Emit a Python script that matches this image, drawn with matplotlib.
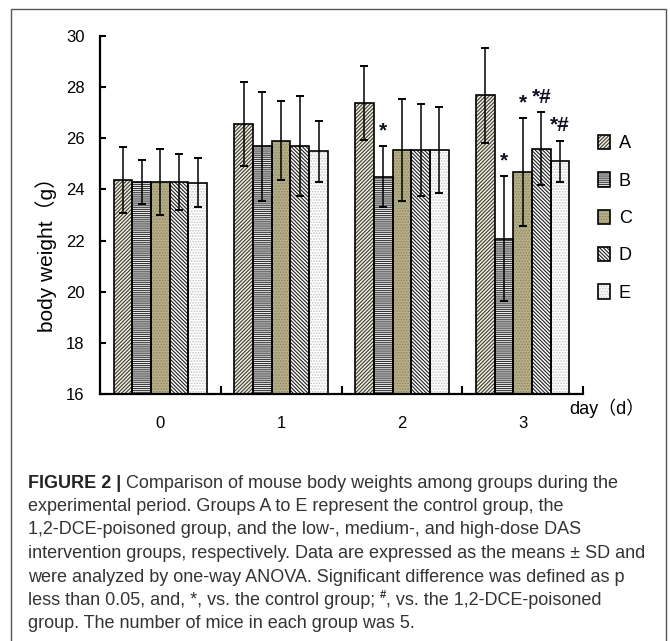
import matplotlib.pyplot as plt
import numpy as np
from matplotlib.patches import Rectangle

# mouse body weight (g), mean and SD per group, day 0..3
days = ["0", "1", "2", "3"]
groups = ["A", "B", "C", "D", "E"]

mean_A = [24.37, 26.57, 27.37, 27.68]
mean_B = [24.29, 25.68, 24.50, 22.07]
mean_C = [24.29, 25.90, 25.54, 24.68]
mean_D = [24.29, 25.70, 25.54, 25.59]
mean_E = [24.26, 25.49, 25.54, 25.11]

sd_A = [1.30, 1.65, 1.44, 1.85]
sd_B = [0.85, 2.14, 1.20, 2.45]
sd_C = [1.30, 1.55, 2.00, 2.10]
sd_D = [1.08, 1.95, 1.80, 1.42]
sd_E = [0.96, 1.20, 1.68, 0.80]

# significance marks
sig_day = [2, 3, 3, 3, 3]
sig_group = ["B", "B", "C", "D", "E"]
sig_text = ["*", "*", "*", "*#", "*#"]

caption_lines = [
    "Comparison of mouse body weights among groups during the",
    "experimental period. Groups A to E represent the control group, the",
    "1,2-DCE-poisoned group, and the low-, medium-, and high-dose DAS",
    "intervention groups, respectively. Data are expressed as the means \u00b1 SD and",
    "were analyzed by one-way ANOVA. Significant difference was defined as p",
    "less than 0.05, and, *, vs. the control group;",
    "group. The number of mice in each group was 5.",
]

means = dict(zip(groups, [mean_A, mean_B, mean_C, mean_D, mean_E]))
sds = dict(zip(groups, [sd_A, sd_B, sd_C, sd_D, sd_E]))

fill = {"A": "#f2f0e2", "B": "#f4f4f4", "C": "#b8b088", "D": "#ffffff", "E": "#ffffff"}
hcol = {"A": "#3b3a2c", "B": "#333333", "C": "#8d8663", "D": "#1e1e1e", "E": "#c4c4c4"}
hatch = {"A": "/" * 9, "B": "-" * 8, "C": "." * 6, "D": "\\" * 9, "E": "." * 6}

plt.rcParams["font.family"] = ["Liberation Sans", "Noto Sans CJK SC", "DejaVu Sans"]
plt.rcParams["hatch.linewidth"] = 0.8

W, H = 670, 641
fig = plt.figure(figsize=(W / 100, H / 100), dpi=100)
ax = fig.add_axes([100 / W, 1 - 394 / H, 483 / W, 358 / H])

w = 0.155
x0 = np.arange(len(days)) + 0.5
handles = []
for k, g in enumerate(groups):
    x = x0 + (k - 2) * w
    b1 = ax.bar(x, means[g], w, color=fill[g], hatch=hatch[g], edgecolor=hcol[g], linewidth=0, zorder=2)
    b2 = ax.bar(x, means[g], w, fill=False, edgecolor="black", linewidth=1.2, zorder=3)
    ax.errorbar(x, means[g], yerr=sds[g], fmt="none", ecolor="black",
                elinewidth=1.1, capsize=3, capthick=1.4, zorder=4)
    handles.append((b1[0], b2[0]))

for d, g, t in zip(sig_day, sig_group, sig_text):
    k = groups.index(g)
    xs = d + 0.5 + (k - 2) * w
    ys = means[g][d] + sds[g][d] + 0.6
    ax.text(xs, ys, t, ha="center", va="center", fontsize=15, fontweight="bold", color="#111122")

ax.set_xlim(0, 4)
ax.set_ylim(16, 30)
ax.set_yticks(range(16, 31, 2))
ax.set_xticks(x0, days)
ax.set_xticks([1, 2, 3, 4], minor=True)
ax.tick_params(axis="x", which="major", length=0, pad=16, labelsize=12)
ax.tick_params(axis="x", which="minor", direction="in", length=5.5, width=1.5)
ax.tick_params(axis="y", direction="in", length=4.5, width=1.5, pad=11, labelsize=12)
for s in ["top", "right"]:
    ax.spines[s].set_visible(False)
for s in ["left", "bottom"]:
    ax.spines[s].set_linewidth(1.6)

fig.text(46 / W, 1 - 250 / H, "body weight\uff08g\uff09", rotation=90, ha="center", va="center", fontsize=15)
fig.text(607 / W, 1 - 408 / H, "day\uff08d\uff09", ha="center", va="center", fontsize=13)

fig.legend(handles, groups, loc="upper left", bbox_to_anchor=(598 / W, 1 - 135 / H),
           frameon=False, fontsize=13, handlelength=0.65, handleheight=0.85,
           handletextpad=0.5, labelspacing=1.1, borderpad=0, borderaxespad=0)

# frame round the whole figure
fig.patches.append(Rectangle((11 / W, -0.01), 655 / W, 1.01 - 9 / H, transform=fig.transFigure,
                             fill=False, edgecolor="#555555", linewidth=1))

# caption
cx = 28 / W
cy = [1 - (481 + 23.5 * i) / H for i in range(len(caption_lines))]
ckw = dict(fontsize=13, color="#333333", va="center_baseline", ha="left")
fig.canvas.draw()
r = fig.canvas.get_renderer()

t = fig.text(cx, cy[0], "FIGURE 2 |", fontweight="bold", **ckw)
t.set_color("#222222")
x1 = t.get_window_extent(r).x1 / W
fig.text(x1 + 5 / W, cy[0], caption_lines[0], **ckw)

for i in range(1, len(caption_lines)):
    t = fig.text(cx, cy[i], caption_lines[i], **ckw)

t6 = fig.texts[-2]
x1 = t6.get_window_extent(r).x1 / W
t = fig.text(x1 + 5 / W, cy[5] + 5 / H, "#", fontsize=8, fontweight="bold", color="#222222",
             va="center_baseline", ha="left")
x1 = t.get_window_extent(r).x1 / W
fig.text(x1, cy[5], ", vs. the 1,2-DCE-poisoned", **ckw)

fig.savefig("out.png", dpi=100)
